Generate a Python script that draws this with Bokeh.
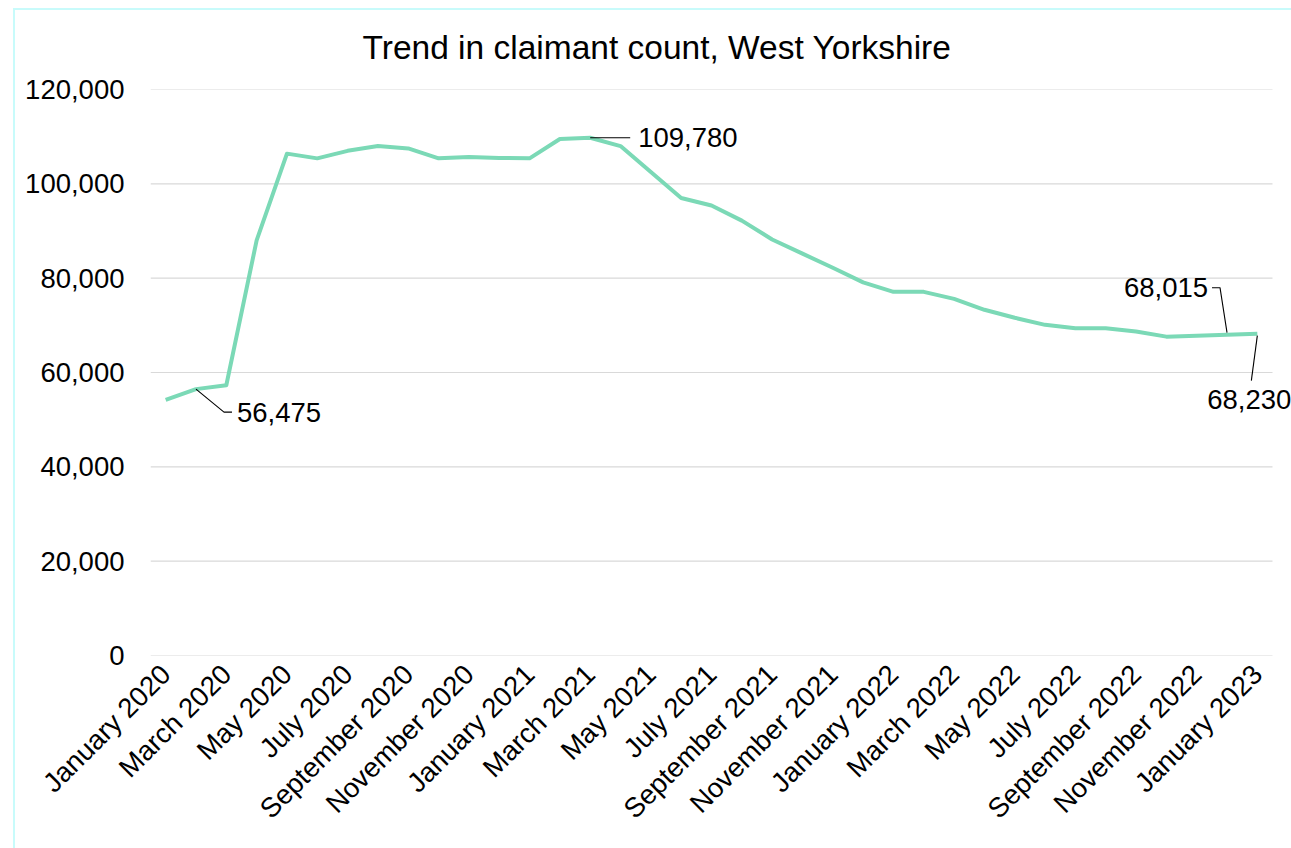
import math
from bokeh.plotting import figure
from bokeh.models import (FixedTicker, NumeralTickFormatter, Range1d, Label,
                          ColumnDataSource)
from bokeh.embed import file_html
from bokeh.resources import INLINE

# ---------------- data ----------------
months = [
    "January 2020", "February 2020", "March 2020", "April 2020", "May 2020",
    "June 2020", "July 2020", "August 2020", "September 2020", "October 2020",
    "November 2020", "December 2020", "January 2021", "February 2021",
    "March 2021", "April 2021", "May 2021", "June 2021", "July 2021",
    "August 2021", "September 2021", "October 2021", "November 2021",
    "December 2021", "January 2022", "February 2022", "March 2022",
    "April 2022", "May 2022", "June 2022", "July 2022", "August 2022",
    "September 2022", "October 2022", "November 2022", "December 2022",
    "January 2023",
]
claimants = [
    54200, 56475, 57300, 88000, 106400, 105400, 107000, 108000, 107500,
    105400, 105700, 105500, 105400, 109500, 109780, 108000, 102500, 97000,
    95400, 92200, 88200, 85200, 82200, 79100, 77100, 77100, 75600, 73300,
    71600, 70100, 69400, 69400, 68700, 67600, 67800, 68015, 68230,
]
y_ticks = [0, 20000, 40000, 60000, 80000, 100000, 120000]
labelled = [1, 14, 35, 36]   # indices of points carrying a data label

title_text = "Trend in claimant count, West Yorkshire"

# ---------------- layout ----------------
FONT = "Liberation Sans"
LINE_COLOR = "#7bd9b6"
W, H = 1291, 848
BL, BR, BT, BB = 150, 0, 89, 193
PLOT_W = 1122                       # width of the category area
N = len(months)
PX_X = PLOT_W / N
X0 = -0.5
XC = N - 0.5                        # right end of category area
X1 = X0 + (W - BL - BR) / PX_X      # frame runs to canvas edge (labels)
Y0, Y1 = 0, 120000
PX_Y = (H - BT - BB) / (Y1 - Y0)

CYAN = "#c8fbfb"
p = figure(width=W, height=H, output_backend="svg", toolbar_location=None,
           x_range=Range1d(X0, X1), y_range=Range1d(Y0, Y1),
           min_border_left=BL, min_border_right=BR,
           min_border_top=BT, min_border_bottom=BB,
           styles={"background":
                   f"linear-gradient({CYAN},{CYAN}) 13px 8px / 2px 100% no-repeat, "
                   f"linear-gradient({CYAN},{CYAN}) 13px 8px / 100% 2px no-repeat, "
                   "white"})
p.outline_line_color = None
p.background_fill_color = "white"
p.border_fill_alpha = 0

p.title.text = title_text
p.title.text_font = FONT
p.title.text_font_size = "33.5px"
p.title.text_font_style = "normal"
p.title.text_color = "#000000"
p.title.align = "left"
p.title.offset = 362 - BL
p.title.standoff = 47

xs = list(range(N))

# horizontal gridlines over the category area
p.segment(x0=[X0] * len(y_ticks), x1=[XC] * len(y_ticks), y0=y_ticks,
          y1=y_ticks, line_color="#d9d9d9", line_width=1.2)

src = ColumnDataSource(dict(x=xs, y=claimants, m=months))
p.line("x", "y", source=src, line_color=LINE_COLOR, line_width=4,
       line_join="round")

# axes
p.xaxis.ticker = FixedTicker(ticks=xs[::2])
p.xaxis.major_label_overrides = {i: months[i] for i in xs[::2]}
p.xaxis.major_label_orientation = math.pi / 4
p.yaxis.ticker = FixedTicker(ticks=y_ticks)
p.yaxis.formatter = NumeralTickFormatter(format="0,0")
for ax in (p.xaxis[0], p.yaxis[0]):
    ax.axis_line_color = None
    ax.major_tick_line_color = None
    ax.minor_tick_line_color = None
    ax.major_label_text_font = FONT
    ax.major_label_text_font_size = "27.5px"
    ax.major_label_text_color = "#000000"
p.yaxis.major_label_standoff = 20
p.xaxis.major_label_standoff = 8

p.xgrid.grid_line_color = None
p.ygrid.grid_line_color = None


# ---------------- data labels with leader lines ----------------
def at(i, ox, oy):
    """data point i shifted by (ox, oy) screen px (oy downwards)."""
    return xs[i] + ox / PX_X, claimants[i] - oy / PX_Y


# (leader points in px [y down], text offset px [y up], align)
specs = {
    1: ([(0, 0), (28, 23), (36, 23)], (41, -23), "left"),
    14: ([(0, 0), (40, 0)], (48, 0), "left"),
    35: ([(-15, -47), (-7, -47), (0, -2)], (-19, 47), "right"),
    36: ([(0, 2), (-6, 47)], (-8, -66), "center"),
}
for i in labelled:
    pts, (tx, ty), align = specs[i]
    lx, ly = zip(*[at(i, a, b) for a, b in pts])
    p.line(list(lx), list(ly), line_color="#000000", line_width=1.1)
    p.add_layout(Label(x=xs[i], y=claimants[i], x_offset=tx, y_offset=ty,
                       text=f"{claimants[i]:,}", text_font=FONT,
                       text_font_size="27.5px", text_color="#000000",
                       text_align=align, text_baseline="middle"))

open("out.html", "w").write(file_html(p, INLINE))
